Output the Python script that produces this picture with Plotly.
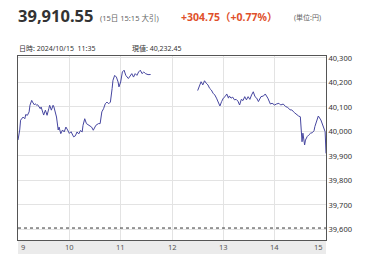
import plotly.graph_objects as go

# ---- data ----
am_times = ["09:00","09:02","09:03","09:05","09:06","09:08","09:09","09:11","09:13","09:14",
            "09:16","09:17","09:19","09:20","09:22","09:23","09:26","09:27","09:29","09:30",
            "09:32","09:34","09:36","09:37","09:39","09:41","09:42","09:44","09:45","09:47",
            "09:48","09:50","09:52","09:54","09:56","09:58","10:00","10:02","10:04","10:05",
            "10:07","10:09","10:11","10:13","10:15","10:16","10:18","10:20","10:23","10:26",
            "10:28","10:31","10:34","10:36","10:38","10:40","10:42","10:44","10:46","10:48",
            "10:50","10:51","10:53","10:55","10:57","10:58","11:00","11:02","11:04","11:06",
            "11:09","11:11","11:13","11:15","11:17","11:19","11:21","11:23","11:25","11:27",
            "11:29","11:32","11:35"]
am_values = [39965,40006,40046,40052,40059,40052,40069,40066,40080,40107,
             40127,40120,40109,40113,40107,40109,40093,40100,40080,40067,
             40087,40066,40093,40107,40087,40107,40100,40073,40059,40006,
             40018,39991,40006,39998,40018,40006,39992,39999,39986,39978,
             39982,39998,39990,40004,39998,40025,40052,40032,40025,40018,
             40005,40025,40032,40032,40080,40093,40113,40120,40113,40120,
             40175,40209,40229,40222,40202,40182,40202,40243,40250,40229,
             40216,40229,40236,40222,40236,40229,40243,40250,40236,40243,
             40236,40232,40232.45]

pm_times = ["12:30","12:32","12:34","12:36","12:38","12:40","12:42","12:44","12:46","12:48",
            "12:50","12:52","12:54","12:56","12:58","13:00","13:02","13:04","13:06","13:07",
            "13:09","13:11","13:13","13:15","13:17","13:19","13:21","13:23","13:25","13:27",
            "13:29","13:31","13:33","13:35","13:37","13:39","13:41","13:42","13:44","13:47",
            "13:49","13:52","13:54","13:55","13:57","14:00","14:02","14:05","14:07","14:10",
            "14:13","14:15","14:18","14:20","14:23","14:26","14:28","14:30","14:31","14:32",
            "14:33","14:35","14:36","14:38","14:40","14:42","14:44","14:46","14:47","14:49",
            "14:51","14:54","14:56","14:58","14:59","15:00"]
pm_values = [40167,40190,40203,40190,40207,40197,40190,40176,40169,40156,
             40149,40136,40122,40104,40122,40136,40142,40153,40136,40145,
             40136,40140,40129,40131,40124,40108,40131,40126,40142,40129,
             40142,40131,40149,40162,40142,40136,40122,40131,40142,40145,
             40153,40136,40122,40112,40115,40108,40112,40115,40108,40112,
             40101,40099,40088,40088,40077,40067,40063,40060,40006,39958,
             39993,39945,39965,39979,39986,39993,39995,40003,40020,40047,
             40063,40047,40027,40009,39999,39910.55]

prev_close = 39605.80
y_ticks = [39600, 39700, 39800, 39900, 40000, 40100, 40200, 40300]
x_ticks = [9, 10, 11, 12, 13, 14, 15]
x_tick_labels = ["9", "10", "11", "12", "13", "14", "15"]

price_text = "39,910.55"
time_text = "(15日 15:15 大引)"
change_text = "+304.75（+0.77%）"
unit_text = "(単位:円)"
hover_time_text = "日時: 2024/10/15  11:35"
hover_value_text = "現値: 40,232.45"


def to_hours(t):
    h, m = t.split(":")
    return int(h) + int(m) / 60.0


FONT = "Noto Sans, Noto Sans CJK JP, sans-serif"
LINE_COLOR = "#4646a0"

fig = go.Figure()
fig.add_trace(go.Scatter(x=[to_hours(t) for t in am_times], y=am_values, mode="lines",
                         line=dict(color=LINE_COLOR, width=1), hoverinfo="skip"))
fig.add_trace(go.Scatter(x=[to_hours(t) for t in pm_times], y=pm_values, mode="lines",
                         line=dict(color=LINE_COLOR, width=1), hoverinfo="skip"))

# previous close dotted line
fig.add_shape(type="line", xref="paper", x0=0, x1=1, yref="y", y0=prev_close, y1=prev_close,
              line=dict(color="#333333", width=1, dash="dot"))
# gray band under the plot
fig.add_shape(type="rect", xref="paper", x0=0, x1=1, yref="paper", y0=-0.08, y1=0,
              fillcolor="#ebebeb", line=dict(width=0), layer="below")

W, H = 381, 254
L, R, T, B = 18, 55, 56, 14
PW, PH = W - L - R, H - T - B


def px(xp):
    return (xp - L) / PW


def py(yp):
    return (H - B - yp) / PH


ann = []
ann.append(dict(text=f"<b>{price_text}</b>", x=px(16), y=py(16), xanchor="left", yanchor="middle",
                font=dict(size=16.5, color="#333333", family=FONT)))
ann.append(dict(text=time_text, x=px(98), y=py(18), xanchor="left", yanchor="middle",
                font=dict(size=7.5, color="#666666", family=FONT)))
ann.append(dict(text=f"<b>{change_text}</b>", x=px(179), y=py(17), xanchor="left", yanchor="middle",
                font=dict(size=10.5, color="#e0502a", family=FONT)))
ann.append(dict(text=unit_text, x=px(292), y=py(18), xanchor="left", yanchor="middle",
                font=dict(size=7, color="#666666", family=FONT)))
ann.append(dict(text=hover_time_text, x=px(17), y=py(49), xanchor="left", yanchor="middle",
                font=dict(size=7, color="#333333", family=FONT)))
ann.append(dict(text=hover_value_text, x=px(130), y=py(49), xanchor="left", yanchor="middle",
                font=dict(size=7, color="#333333", family=FONT)))
for i, (xv, lab) in enumerate(zip(x_ticks, x_tick_labels)):
    if i == 0:
        anchor, shift = "left", 1
    elif i == len(x_ticks) - 1:
        anchor, shift = "right", -1
    else:
        anchor, shift = "center", 0
    ann.append(dict(text=lab, x=xv, xref="x", y=py(247), yref="paper", xanchor=anchor,
                    xshift=shift, yanchor="middle",
                    font=dict(size=7.5, color="#555555", family=FONT)))
for a in ann:
    a.setdefault("xref", "paper")
    a.setdefault("yref", "paper")
    a["showarrow"] = False

fig.update_layout(
    width=W, height=H,
    margin=dict(l=L, r=R, t=T, b=B, pad=0),
    paper_bgcolor="white", plot_bgcolor="white",
    showlegend=False,
    annotations=ann,
    xaxis=dict(range=[9, 15], tickvals=x_ticks, showticklabels=False, ticks="",
               showgrid=True, gridcolor="#e3e3e3", gridwidth=1, zeroline=False,
               showline=True, linecolor="#555555", linewidth=1, mirror=True, fixedrange=True),
    yaxis=dict(range=[39557, 40308], tickvals=y_ticks, tickformat=",", side="right",
               ticks="", showgrid=True, gridcolor="#e3e3e3", gridwidth=1, zeroline=False,
               showline=True, linecolor="#555555", linewidth=1, mirror=True,
               tickfont=dict(size=7.5, color="#333333", family=FONT), fixedrange=True),
)

fig.write_html("out.html", config={"displayModeBar": False})
